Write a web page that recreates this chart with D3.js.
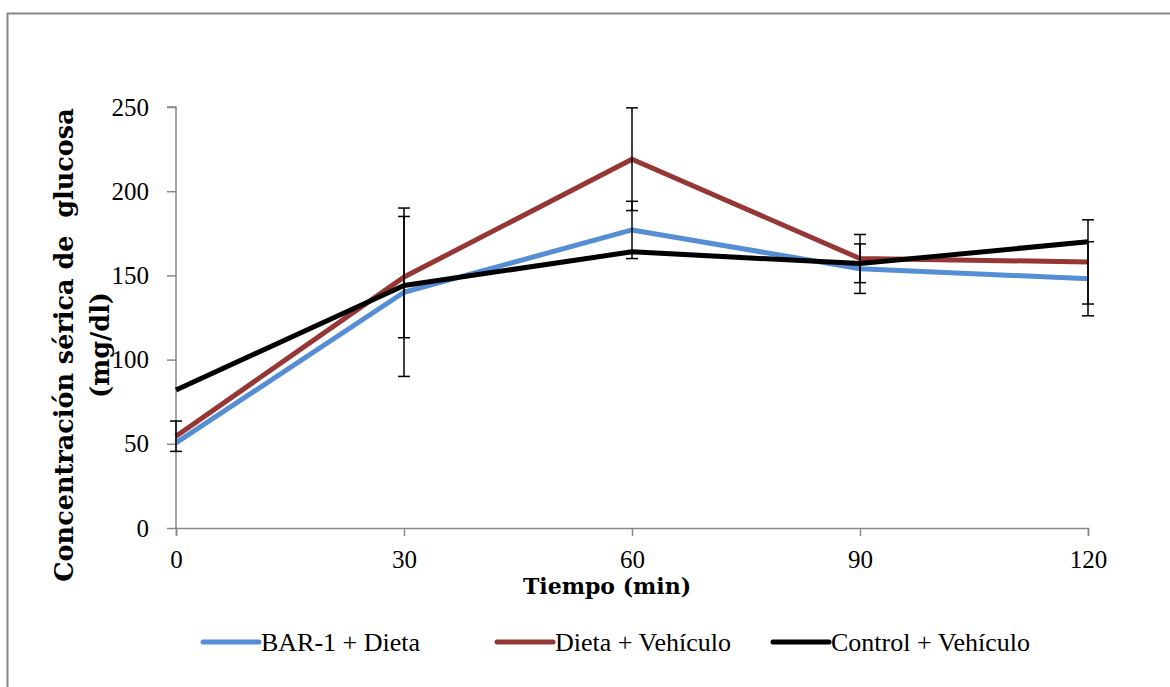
<!DOCTYPE html>
<html>
<head>
<meta charset="utf-8">
<script src="https://cdn.jsdelivr.net/npm/d3@7"></script>
<style>
  body { margin: 0; background: #fff; }
  svg text { font-family: "Liberation Serif", "DejaVu Serif", serif; fill: #000; }
</style>
</head>
<body>
<div id="chart"></div>
<script>
// data
var times = [0, 30, 60, 90, 120];
var seriesNames = ["BAR-1 + Dieta", "Dieta + Vehículo", "Control + Vehículo"];
var seriesColors = ["#558ed5", "#953735", "#000000"];
var bar1 = [50.5, 140, 177, 154, 148];
var dieta = [54.5, 149, 219, 160, 158];
var control = [82, 144, 164, 157, 170];
// error bar half widths (0 = not visible)
var bar1Err = [0, 50, 17, 14.7, 22];
var dietaErr = [9, 36, 30.5, 14.3, 25];
var controlErr = [0, 0, 0, 0, 0];
var yTicks = [0, 50, 100, 150, 200, 250];

var width = 1170, height = 687;

var x = d3.scaleLinear().domain([0, 120]).range([176, 1088]);
var y = d3.scaleLinear().domain([0, 250]).range([528, 107]);

var svg = d3.select("#chart").append("svg")
  .attr("width", width)
  .attr("height", height);

// outer frame
svg.append("rect")
  .attr("x", 7.5).attr("y", 13.5)
  .attr("width", 1200).attr("height", 700)
  .attr("fill", "none")
  .attr("stroke", "#888")
  .attr("stroke-width", 2);

// y axis
var yAxis = svg.append("g")
  .attr("transform", "translate(" + x(0) + ",0)")
  .call(d3.axisLeft(y).tickValues(yTicks).tickSize(9).tickPadding(18));
// x axis
var xAxis = svg.append("g")
  .attr("transform", "translate(0," + y(0) + ")")
  .call(d3.axisBottom(x).tickValues(times).tickSize(8).tickPadding(14));

[yAxis, xAxis].forEach(function(a){
  a.select(".domain").attr("stroke", "#888").attr("stroke-width", 1.5);
  a.selectAll(".tick line").attr("stroke", "#888").attr("stroke-width", 1.5);
  a.selectAll("text")
    .style("font-family", "'Liberation Serif', serif")
    .style("font-size", "25px")
    .attr("fill", "#000");
});
yAxis.select(".domain").attr("d", "M-9," + y(250) + "H0V" + y(0));

var series = [
  {name: seriesNames[0], color: seriesColors[0], vals: bar1, err: bar1Err},
  {name: seriesNames[1], color: seriesColors[1], vals: dieta, err: dietaErr},
  {name: seriesNames[2], color: seriesColors[2], vals: control, err: controlErr}
];

var line = d3.line()
  .x(function(d){ return x(d.t) })
  .y(function(d){ return y(d.v) });

// lines
series.forEach(function(s){
  var pts = times.map(function(t, i){ return {t: t, v: s.vals[i]} });
  svg.append("path")
    .datum(pts)
    .attr("d", line)
    .attr("fill", "none")
    .attr("stroke", s.color)
    .attr("stroke-width", 5)
    .attr("stroke-linejoin", "round");
});

// error bars (black, drawn over the lines)
series.forEach(function(s){
  var g = svg.append("g");
  times.forEach(function(t, i){
    if (!s.err[i]) return;
    var cx = x(t), top = y(s.vals[i] + s.err[i]), bot = y(s.vals[i] - s.err[i]);
    g.append("line").attr("x1", cx).attr("x2", cx).attr("y1", top).attr("y2", bot)
      .attr("stroke", "#000").attr("stroke-width", 1.5);
    [top, bot].forEach(function(yy){
      g.append("line").attr("x1", cx - 6).attr("x2", cx + 6).attr("y1", yy).attr("y2", yy)
        .attr("stroke", "#000").attr("stroke-width", 1.5);
    });
  });
});

// axis titles
svg.append("text")
  .attr("x", 607).attr("y", 594)
  .attr("text-anchor", "middle")
  .style("font-family", "'DejaVu Serif', serif")
  .style("font-size", "22px").style("font-weight", "bold")
  .text("Tiempo (min)");

var yTitle = svg.append("text")
  .attr("transform", "translate(73,345) rotate(-90)")
  .attr("text-anchor", "middle")
  .style("font-family", "'DejaVu Serif', serif")
  .style("font-size", "25.5px").style("font-weight", "bold");
yTitle.append("tspan").attr("x", 0).attr("y", 0).attr("xml:space", "preserve").text("Concentración sérica de  glucosa");
yTitle.append("tspan").attr("x", 0).attr("y", 36).text("(mg/dl)");

// legend
var legendX = [203, 497, 773];
series.forEach(function(s, i){
  var lg = svg.append("g").attr("transform", "translate(" + legendX[i] + ",642)");
  lg.append("line").attr("x1", 0).attr("x2", 56).attr("y1", 0).attr("y2", 0)
    .attr("stroke", s.color).attr("stroke-width", 5).attr("stroke-linecap", "round");
  lg.append("text").attr("x", 58).attr("y", 9)
    .style("font-size", "26px")
    .text(s.name);
});
</script>
</body>
</html>
